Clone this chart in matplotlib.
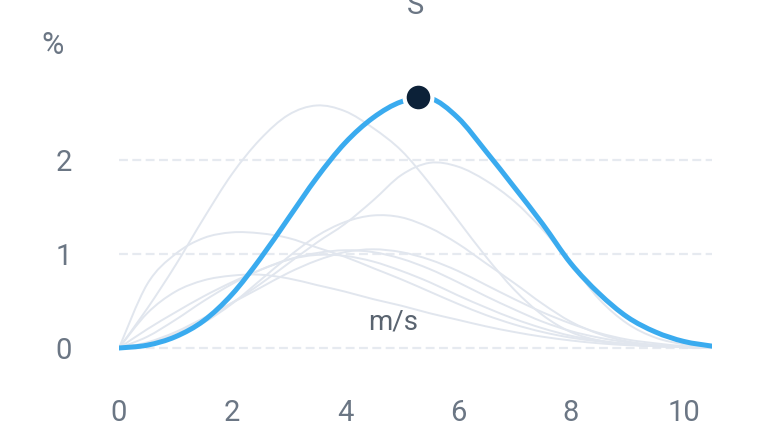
import matplotlib
matplotlib.use("Agg")
import matplotlib.pyplot as plt
from matplotlib.path import Path
from matplotlib.patches import PathPatch
import numpy as np

plt.rcParams['font.family'] = ['Roboto', 'DejaVu Sans']

# wind speed bins (m/s)
speed = [0, 0.5, 1, 1.5, 2, 2.5, 3, 3.5, 4, 4.5, 5, 5.5,
         6, 6.5, 7, 7.5, 8, 8.5, 9, 9.5, 10, 10.5]

# highlighted sector (S)
sel = [0, 0.03, 0.12, 0.29, 0.57, 0.95, 1.38, 1.81, 2.18, 2.45, 2.62, 2.66,
       2.45, 2.09, 1.71, 1.32, 0.90, 0.58, 0.33, 0.17, 0.07, 0.02]
peak_x = 5.3
peak_y = 2.67

# other sectors, drawn in grey
others = [
    [0, 0.42, 0.88, 1.38, 1.85, 2.22, 2.48, 2.58, 2.52, 2.34, 2.10, 1.75,
     1.36, 0.97, 0.62, 0.35, 0.17, 0.08, 0.04, 0.02, 0.01, 0.0],
    [0, 0.05, 0.15, 0.30, 0.48, 0.68, 0.90, 1.12, 1.32, 1.57, 1.84, 1.97,
     1.93, 1.78, 1.56, 1.26, 0.90, 0.52, 0.26, 0.11, 0.04, 0.01],
    [0, 0.04, 0.13, 0.27, 0.47, 0.72, 0.97, 1.19, 1.34, 1.41, 1.39, 1.28,
     1.11, 0.90, 0.69, 0.47, 0.28, 0.15, 0.07, 0.03, 0.01, 0.0],
    [0, 0.68, 1.00, 1.17, 1.23, 1.22, 1.17, 1.07, 0.97, 0.85, 0.73, 0.60,
     0.47, 0.35, 0.25, 0.17, 0.11, 0.07, 0.04, 0.02, 0.01, 0.0],
    [0, 0.20, 0.38, 0.55, 0.70, 0.83, 0.94, 1.01, 1.04, 1.02, 0.95, 0.84,
     0.70, 0.55, 0.41, 0.28, 0.18, 0.11, 0.06, 0.03, 0.01, 0.0],
    [0, 0.06, 0.17, 0.32, 0.48, 0.64, 0.80, 0.93, 1.02, 1.05, 1.02, 0.94,
     0.82, 0.67, 0.52, 0.38, 0.26, 0.16, 0.09, 0.05, 0.02, 0.01],
    [0, 0.37, 0.60, 0.72, 0.77, 0.78, 0.74, 0.67, 0.60, 0.52, 0.45, 0.37,
     0.30, 0.23, 0.17, 0.12, 0.08, 0.05, 0.03, 0.02, 0.01, 0.0],
    [0, 0.12, 0.30, 0.50, 0.68, 0.83, 0.94, 0.99, 0.98, 0.92, 0.82, 0.70,
     0.56, 0.43, 0.31, 0.21, 0.13, 0.08, 0.04, 0.02, 0.01, 0.0],
]

xticks = [0, 2, 4, 6, 8, 10]
yticks = [0, 1, 2]
sector = "S"


def spline(ax, x, y, **kw):
    # smooth path through the points (cardinal spline as bezier segments)
    x = np.asarray(x, float)
    y = np.asarray(y, float)
    n = len(x)
    verts = [(x[0], y[0])]
    codes = [Path.MOVETO]
    for i in range(n - 1):
        x0, y0 = (x[i - 1], y[i - 1]) if i > 0 else (x[i], y[i])
        x3, y3 = (x[i + 2], y[i + 2]) if i + 2 < n else (x[i + 1], y[i + 1])
        c1 = (x[i] + (x[i + 1] - x0) / 6, y[i] + (y[i + 1] - y0) / 6)
        c2 = (x[i + 1] - (x3 - x[i]) / 6, y[i + 1] - (y3 - y[i]) / 6)
        verts += [c1, c2, (x[i + 1], y[i + 1])]
        codes += [Path.CURVE4] * 3
    p = PathPatch(Path(verts, codes), fill=False, capstyle='round', **kw)
    ax.add_patch(p)


fig = plt.figure(figsize=(7.7, 4.34), dpi=100)
ax = fig.add_axes([119 / 770, 1 - 357.4 / 434, (712 - 119) / 770, 282 / 434])

for v in yticks:
    ax.plot([0, 10.5], [v, v], color='#e6eaf0', lw=1.6, dashes=(4, 2), zorder=1)

for s in others:
    spline(ax, speed, s, edgecolor='#e1e6ee', lw=1.4, zorder=2)

spline(ax, speed, sel, edgecolor='#3aabef', lw=3.6, zorder=3)
ax.plot([peak_x], [peak_y], 'o', ms=20, color='#0c2138',
        mec='white', mew=3, zorder=4, clip_on=False)

ax.set_xlim(0, 10.5)
ax.set_ylim(-0.1, 2.9)
ax.set_xticks(xticks)
ax.set_yticks(yticks)
ax.tick_params(length=0, labelsize=21, colors='#6b7684')
ax.tick_params(axis='x', pad=30)
ax.tick_params(axis='y', pad=34)
for sp in ax.spines.values():
    sp.set_visible(False)

ax.text(4.85, 0.28, 'm/s', fontsize=20, color='#5a6470', ha='center', va='center')
fig.text(53 / 770, 1 - 45 / 434, '%', fontsize=22, color='#6b7684',
         ha='center', va='center')
fig.text(415 / 770, 1 - 6 / 434, sector, fontsize=21, color='#6b7684',
         ha='center', va='center')

fig.savefig('out.png', dpi=100, facecolor='white')
